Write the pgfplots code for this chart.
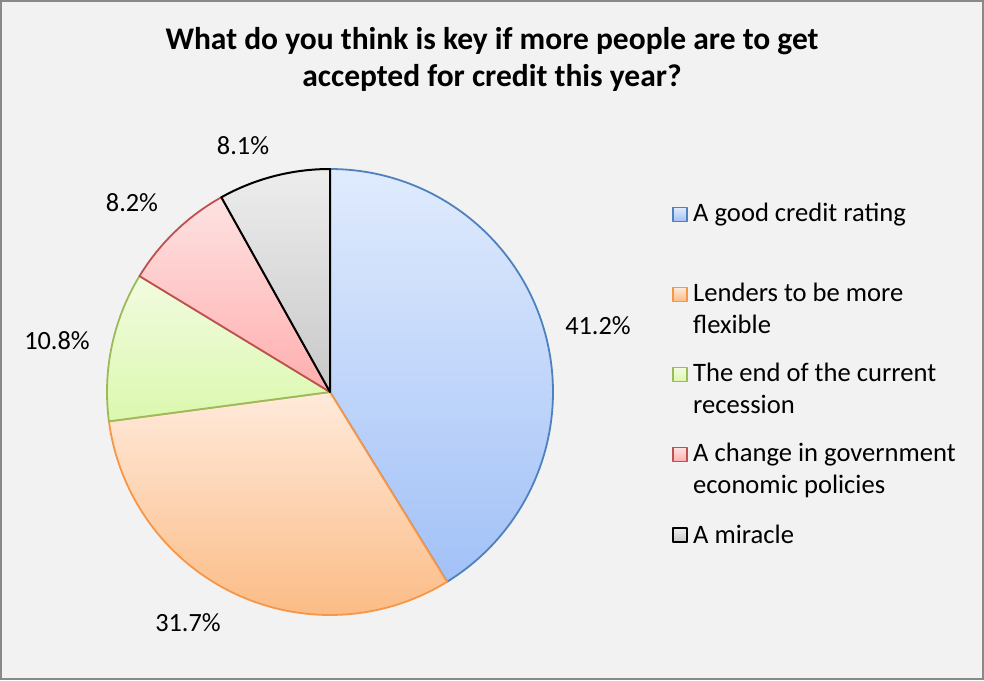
\documentclass[border=0pt]{standalone}
\usepackage{pgfplots}
\pgfplotsset{compat=1.18}
\usepackage{pgfplotstable}
\usepackage{fontspec}
\setmainfont{Carlito}

\definecolor{bgcol}{HTML}{F2F2F2}
\definecolor{framecol}{HTML}{898989}
\definecolor{blueE}{HTML}{4F81BD}\definecolor{blueT}{HTML}{E0EBFD}\definecolor{blueB}{HTML}{A2C1F7}
\definecolor{oranE}{HTML}{F79646}\definecolor{oranT}{HTML}{FFEADB}\definecolor{oranB}{HTML}{FBBC86}
\definecolor{grenE}{HTML}{9BBB59}\definecolor{grenT}{HTML}{F2FBE0}\definecolor{grenB}{HTML}{DBF8AE}
\definecolor{redE}{HTML}{C0504D}\definecolor{redT}{HTML}{FEE2E2}\definecolor{redB}{HTML}{FFAEAE}
\definecolor{grayE}{HTML}{000000}\definecolor{grayT}{HTML}{EDEDED}\definecolor{grayB}{HTML}{C8C8C8}

\pgfplotstableread{
idx value
0 41.2
1 31.7
2 10.8
3 8.2
4 8.1
}\piedata

\begin{document}%
\begin{tikzpicture}
\pgfplotstablegetelem{0}{value}\of\piedata\let\vA\pgfplotsretval
\pgfplotstablegetelem{1}{value}\of\piedata\let\vB\pgfplotsretval
\pgfplotstablegetelem{2}{value}\of\piedata\let\vC\pgfplotsretval
\pgfplotstablegetelem{3}{value}\of\piedata\let\vD\pgfplotsretval
\pgfplotstablegetelem{4}{value}\of\piedata\let\vE\pgfplotsretval
\pgfmathsetmacro\aA{90}
\pgfmathsetmacro\aB{\aA-3.6*\vA}
\pgfmathsetmacro\aC{\aB-3.6*\vB}
\pgfmathsetmacro\aD{\aC-3.6*\vC}
\pgfmathsetmacro\aE{\aD-3.6*\vD}
\pgfmathsetmacro\aF{\aE-3.6*\vE}
\def\cx{330}\def\cy{288}\def\rr{223}
\begin{axis}[
  width=984pt, height=680pt, scale only axis,
  xmin=0, xmax=984, ymin=0, ymax=680,
  hide axis, clip=false,
  every axis plot/.append style={line join=round},
]
\fill[bgcol] (axis cs:0,0) rectangle (axis cs:984,680);
\draw[framecol, line width=2pt] (axis cs:1,1) rectangle (axis cs:983,679);

% pie slices
\addplot[draw=blueE, line width=1.8pt, top color=blueT, bottom color=blueB, domain=\aB:\aA, samples=120, variable=\t]
  ({\cx+\rr*cos(\t)},{\cy+\rr*sin(\t)}) -- (axis cs:\cx,\cy) -- cycle;
\addplot[draw=oranE, line width=1.8pt, top color=oranT, bottom color=oranB, domain=\aC:\aB, samples=100, variable=\t]
  ({\cx+\rr*cos(\t)},{\cy+\rr*sin(\t)}) -- (axis cs:\cx,\cy) -- cycle;
\addplot[draw=grenE, line width=1.8pt, top color=grenT, bottom color=grenB, domain=\aD:\aC, samples=50, variable=\t]
  ({\cx+\rr*cos(\t)},{\cy+\rr*sin(\t)}) -- (axis cs:\cx,\cy) -- cycle;
\addplot[draw=redE, line width=1.8pt, top color=redT, bottom color=redB, domain=\aE:\aD, samples=40, variable=\t]
  ({\cx+\rr*cos(\t)},{\cy+\rr*sin(\t)}) -- (axis cs:\cx,\cy) -- cycle;
\addplot[draw=grayE, line width=2pt, top color=grayT, bottom color=grayB, domain=\aF:\aE, samples=40, variable=\t]
  ({\cx+\rr*cos(\t)},{\cy+\rr*sin(\t)}) -- (axis cs:\cx,\cy) -- cycle;

% legend keys
\addplot[draw=blueE, line width=1.5pt, top color=blueT, bottom color=blueB] coordinates {(673,458.5) (687,458.5) (687,472.5) (673,472.5)} -- cycle;
\addplot[draw=oranE, line width=1.5pt, top color=oranT, bottom color=oranB] coordinates {(673,378.5) (687,378.5) (687,392.5) (673,392.5)} -- cycle;
\addplot[draw=grenE, line width=1.5pt, top color=grenT, bottom color=grenB] coordinates {(673,298.5) (687,298.5) (687,312.5) (673,312.5)} -- cycle;
\addplot[draw=redE, line width=1.5pt, top color=redT, bottom color=redB] coordinates {(673,218.5) (687,218.5) (687,232.5) (673,232.5)} -- cycle;
\addplot[draw=grayE, line width=1.5pt, top color=grayT, bottom color=grayB] coordinates {(673,138) (687,138) (687,152) (673,152)} -- cycle;

% title
\node[anchor=base, font=\fontsize{31.5}{37}\selectfont\bfseries] at (axis cs:492,630) {What do you think is key if more people are to get};
\node[anchor=base, font=\fontsize{31.5}{37}\selectfont\bfseries] at (axis cs:492,593) {accepted for credit this year?};

% data labels
\begin{scope}[every node/.style={anchor=base, font=\fontsize{26.3}{32}\selectfont}]
\node at (axis cs:598,345) {41.2\%};
\node at (axis cs:188,49) {31.7\%};
\node at (axis cs:57,330) {10.8\%};
\node at (axis cs:132,468) {8.2\%};
\node at (axis cs:243,525) {8.1\%};
\end{scope}

% legend texts
\begin{scope}[every node/.style={anchor=base west, font=\fontsize{26.6}{32}\selectfont, inner sep=0pt}]
\node at (axis cs:693,458) {A good credit rating};
\node at (axis cs:693,378) {Lenders to be more};
\node at (axis cs:693,346) {flexible};
\node at (axis cs:693,298) {The end of the current};
\node at (axis cs:693,266) {recession};
\node at (axis cs:693,218) {A change in government};
\node at (axis cs:693,186) {economic policies};
\node at (axis cs:693,137) {A miracle};
\end{scope}
\end{axis}
\end{tikzpicture}%
\end{document}
